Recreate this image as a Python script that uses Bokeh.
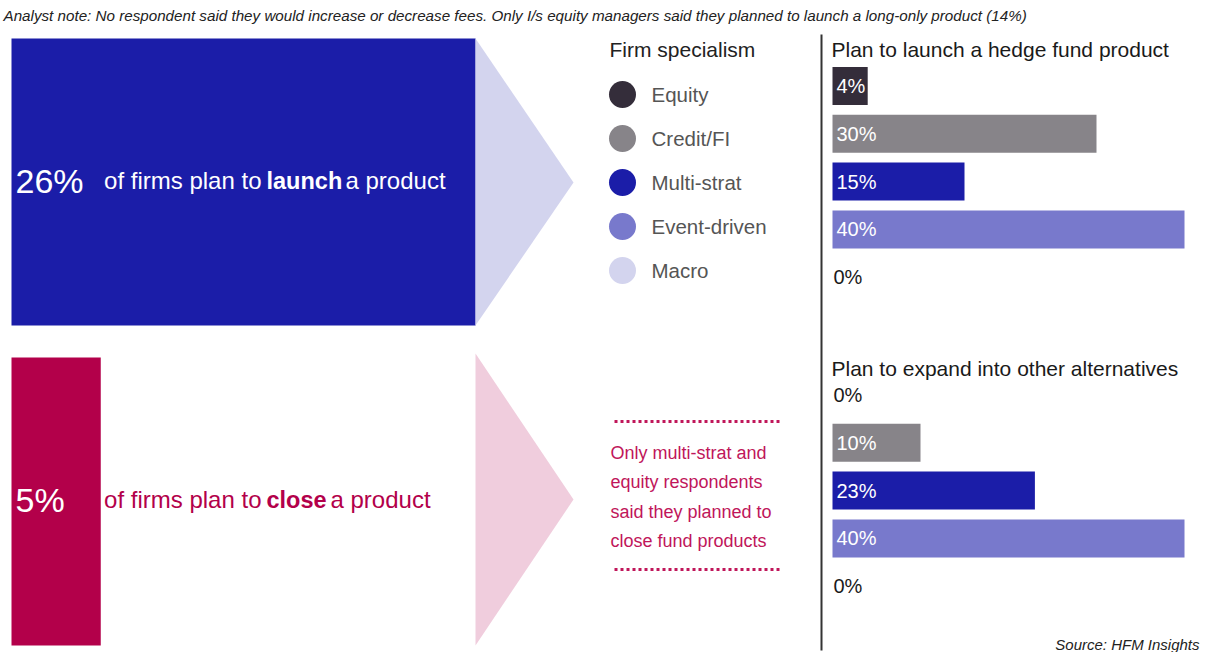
from bokeh.plotting import figure
from bokeh.models import Range1d, ColumnDataSource
from bokeh.core.properties import value
from bokeh.embed import file_html
from bokeh.resources import INLINE

# ---------------- data ----------------
note = ("Analyst note: No respondent said they would increase  or decrease fees. "
        "Only I/s equity managers said they planned to launch a long-only product (14%)")
source_note = "Source: HFM Insights"

headline_pct = [26, 5]
headline_verbs = ["launch", "close"]
headline_pre = "of firms plan to"
headline_post = "a product"

legend_title = "Firm specialism"
specialisms = ["Equity", "Credit/FI", "Multi-strat", "Event-driven", "Macro"]
spec_colors = ["#342d3a", "#878489", "#1b1da8", "#7879cc", "#d3d4ee"]

panel_titles = ["Plan to launch a hedge fund product", "Plan to expand into other alternatives"]
launch_hf = [4, 30, 15, 40, 0]
expand_alts = [0, 10, 23, 40, 0]

close_note = ["Only multi-strat and", "equity respondents", "said they planned to", "close fund products"]

# ---------------- styling ----------------
FONT = value("Liberation Sans")
BLUE = "#1b1da8"
LAV = "#d3d4ee"
CRIMSON = "#b3004a"
PINK = "#f0cddd"
CRIM_TXT = "#c0165a"
DARK = "#1a1a1a"

X0, X1 = 0, 1201
Y0, Y1 = 0, 652

p = figure(width=1201, height=652, x_range=Range1d(X0, X1), y_range=Range1d(Y1, Y0),
           output_backend="svg", toolbar_location=None,
           x_axis_location=None, y_axis_location=None, min_border=0,
           outline_line_color=None, background_fill_color="white",
           border_fill_color="white")
p.grid.visible = False

# scales: headline blocks (percent -> px) and panel bars (percent -> px)
k_head, head_left = 17.85, 11
k_bar, bar_left = 8.8, 832
p.extra_x_ranges = {
    "head": Range1d((X0 - head_left) / k_head, (X1 - head_left) / k_head),
    "pct": Range1d((X0 - bar_left) / k_bar, (X1 - bar_left) / k_bar),
}

def txt(x, y, s, size, color, align="left", style="normal", baseline="middle", **kw):
    p.text(x=[x], y=[y], text=[s], text_font=FONT, text_font_size=f"{size}px",
           text_color=color, text_align=align, text_baseline=baseline,
           text_font_style=style, **kw)

# note
txt(3, 15, note, 15.2, "#222", style="italic")

# headline blocks
block_rows = [(38, 325), (357, 645)]
block_colors = [BLUE, CRIMSON]
tri_colors = [LAV, PINK]
tri_geom = [([475, 573, 475], [38, 182, 325]), ([475, 573, 475], [353, 499, 645])]
text_cols = ["white", CRIMSON]
text_y = [180, 499]
verb_x = [266, 266]
post_x = [345, 330]
for i in range(2):
    top, bot = block_rows[i]
    p.quad(left=[0], right=[headline_pct[i]], top=[top], bottom=[bot],
           color=block_colors[i], line_color=None, x_range_name="head")
    xs, ys = tri_geom[i]
    p.patch(x=xs, y=ys, color=tri_colors[i], line_color=None)
    txt(15, text_y[i], f"{headline_pct[i]}%", 34, "white")
    txt(verb_x[i] - 5, text_y[i], headline_pre, 24, text_cols[i], align="right")
    txt(verb_x[i], text_y[i], headline_verbs[i], 23.5, text_cols[i], style="bold")
    txt(post_x[i], text_y[i], headline_post, 24, text_cols[i])

# legend
txt(609, 49, legend_title, 21, "#222")
leg_y = [94 + 44 * i for i in range(len(specialisms))]
p.scatter(x=[622] * len(specialisms), y=leg_y, size=27, color=spec_colors, line_color=None)
for yy, lab in zip(leg_y, specialisms):
    txt(651, yy, lab, 20.5, "#555")

# divider
p.segment(x0=[821], y0=[34], x1=[821], y1=[650], line_color="#333", line_width=2)

# panels
panel_title_y = [49, 368]
panel_y0 = [85.5, 394.5]
step = 47.8
for title, ty, y0, vals in zip(panel_titles, panel_title_y, panel_y0, [launch_hf, expand_alts]):
    txt(831, ty, title, 21, DARK)
    ys = [y0 + step * i for i in range(len(vals))]
    src = ColumnDataSource(dict(y=[y for y, v in zip(ys, vals) if v > 0],
                                v=[v for v in vals if v > 0],
                                c=[c for c, v in zip(spec_colors, vals) if v > 0],
                                lab=[f"{v}%" for v in vals if v > 0]))
    p.hbar(y="y", left=0, right="v", height=38, color="c", line_color=None,
           source=src, x_range_name="pct")
    p.text(x=0, y="y", text="lab", source=src, x_range_name="pct", x_offset=4,
           text_font=FONT, text_font_size="20px", text_color="white",
           text_baseline="middle", text_align="left")
    zsrc = ColumnDataSource(dict(y=[y for y, v in zip(ys, vals) if v == 0],
                                 lab=[f"{v}%" for v in vals if v == 0]))
    p.text(x=0, y="y", text="lab", source=zsrc, x_range_name="pct", x_offset=1,
           text_font=FONT, text_font_size="20px", text_color=DARK,
           text_baseline="middle", text_align="left")

# close note with dotted rules
p.segment(x0=[614, 614], y0=[421, 569], x1=[779, 779], y1=[421, 569],
          line_color=CRIM_TXT, line_width=3, line_dash="3 3")
for i, line in enumerate(close_note):
    txt(610, 452 + 29.5 * i, line, 18, CRIM_TXT)

# source
txt(1199, 644, source_note, 15, "#222", align="right", style="italic")

open("out.html", "w").write(file_html(p, INLINE))
